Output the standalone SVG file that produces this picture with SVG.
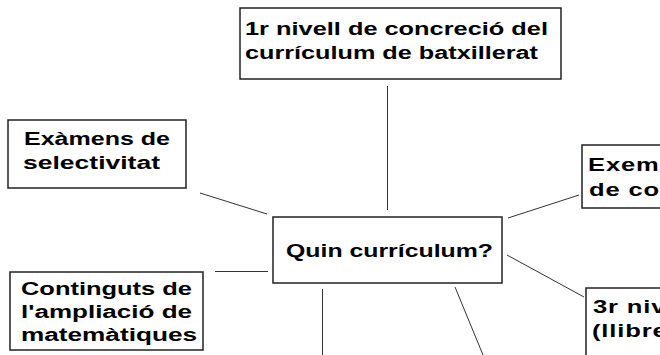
<svg xmlns="http://www.w3.org/2000/svg" width="660" height="355" viewBox="0 0 660 355">
<style>
.box{fill:#fff;stroke:#222;stroke-width:1.5}
.t{font-family:"Liberation Sans",Arial,sans-serif;font-weight:bold;font-size:18px;fill:#000}
.p{letter-spacing:0.6px}
.c{stroke:#333;stroke-width:1;fill:none}
</style>
<rect width="660" height="355" fill="#fff"/>
<g id="connectors">
<line class="c" x1="387.5" y1="86" x2="387.5" y2="210"/>
<line class="c" x1="200" y1="193" x2="267" y2="214"/>
<line class="c" x1="215" y1="271.5" x2="268" y2="271.5"/>
<line class="c" x1="322.5" y1="289" x2="322.5" y2="355"/>
<line class="c" x1="455" y1="287" x2="483" y2="355"/>
<line class="c" x1="508" y1="218" x2="579" y2="195"/>
<line class="c" x1="507" y1="255" x2="584" y2="297"/>
</g>
<g id="n-top">
<rect class="box" x="240" y="8" width="321" height="71"/>
<text class="t" x="245" y="35" textLength="303" lengthAdjust="spacingAndGlyphs">1r nivell de concreció del</text>
<text class="t" x="245" y="59" textLength="293" lengthAdjust="spacingAndGlyphs">currículum de batxillerat</text>
</g>
<g id="n-examens">
<rect class="box" x="8" y="120" width="178" height="68"/>
<text class="t" x="24" y="145" textLength="146" lengthAdjust="spacingAndGlyphs">Exàmens de</text>
<text class="t" x="23" y="169" textLength="137" lengthAdjust="spacingAndGlyphs">selectivitat</text>
</g>
<g id="n-center">
<rect class="box" x="273" y="217" width="229" height="66"/>
<text class="t" x="286" y="257" textLength="207" lengthAdjust="spacingAndGlyphs">Quin currículum?</text>
</g>
<g id="n-continguts">
<rect class="box" x="10" y="272" width="193" height="78"/>
<text class="t" x="21" y="295" textLength="171" lengthAdjust="spacingAndGlyphs">Continguts de</text>
<text class="t" x="21" y="318" textLength="171" lengthAdjust="spacingAndGlyphs">l'ampliació de</text>
<text class="t" x="21" y="341" textLength="176" lengthAdjust="spacingAndGlyphs">matemàtiques</text>
</g>
<g id="n-exem">
<rect class="box" x="582" y="145" width="100" height="63"/>
<text class="t p" transform="translate(588,171) scale(1.42,1)">Exem</text>
<text class="t p" transform="translate(589,196) scale(1.42,1)">de co</text>
</g>
<g id="n-3r">
<rect class="box" x="586" y="288" width="100" height="100"/>
<text class="t p" transform="translate(593,313) scale(1.42,1)">3r niv</text>
<text class="t p" transform="translate(592,337) scale(1.42,1)">(llibre</text>
</g>
</svg>
